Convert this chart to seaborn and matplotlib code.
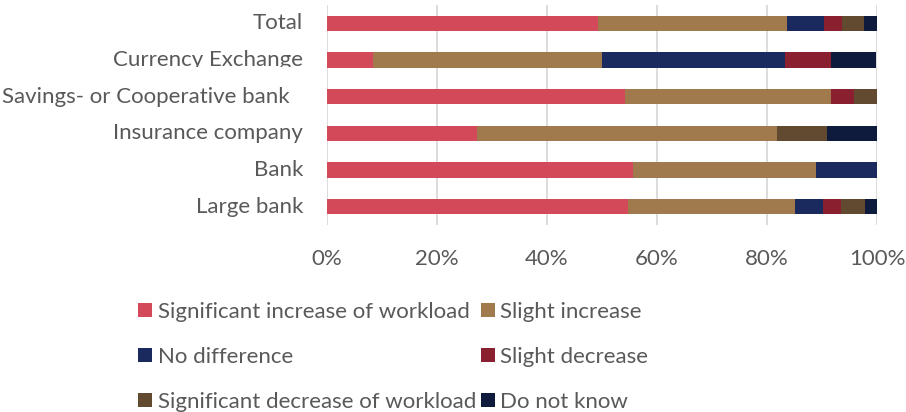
import numpy as np
import pandas as pd
import seaborn as sns
import matplotlib
matplotlib.use("Agg")
import matplotlib.pyplot as plt
from matplotlib.patches import Rectangle
from matplotlib.transforms import Bbox, TransformedBbox, blended_transform_factory, offset_copy

# Survey answers (share of respondents, %) per type of institution
categories = ["Total", "Currency Exchange", "Savings- or Cooperative bank",
              "Insurance company", "Bank", "Large bank"]
series_names = ["Significant increase of workload", "Slight increase",
                "No difference", "Slight decrease",
                "Significant decrease of workload", "Do not know"]
sig_increase = [49.3, 8.3, 54.2, 27.3, 55.6, 54.7]
slight_increase = [34.3, 41.7, 37.5, 54.5, 33.3, 30.3]
no_difference = [6.8, 33.3, 0.0, 0.0, 11.1, 5.2]
slight_decrease = [3.3, 8.3, 4.2, 0.0, 0.0, 3.3]
sig_decrease = [3.9, 0.0, 4.1, 9.1, 0.0, 4.3]
do_not_know = [2.4, 8.3, 0.0, 9.1, 0.0, 2.2]
x_ticks = [0, 20, 40, 60, 80, 100]
x_tick_labels = ["0%", "20%", "40%", "60%", "80%", "100%"]

colors = ["#D4495A", "#A07A4D", "#1B2A5E", "#8A1F2F", "#614A30", "#0F1B3C"]
text_gray = "#595959"
font = "Lato"
fsize = 16

sns.set_theme(style="white")
plt.rcParams["font.family"] = [font, "DejaVu Sans"]

values = pd.DataFrame(
    [sig_increase, slight_increase, no_difference,
     slight_decrease, sig_decrease, do_not_know],
    index=series_names, columns=categories).T
cumulative = values.cumsum(axis=1)

W, H = 906, 412
fig = plt.figure(figsize=(W / 100, H / 100), dpi=100)
ax = fig.add_axes([327 / W, (H - 225) / H, 550 / W, 220 / H])

# Stacked bars: draw the running totals from the outermost segment inwards
for name, col in reversed(list(zip(series_names, colors))):
    df = pd.DataFrame({"cat": categories, "val": cumulative[name].values})
    sns.barplot(data=df, x="val", y="cat", orient="h", color=col,
                saturation=1, width=0.41, ax=ax, linewidth=0)

ax.set_xlim(0, 100)
ax.set_ylim(5.5, -0.5)
ax.set_xticks(x_ticks)
ax.set_xticklabels(x_tick_labels, fontsize=fsize, color=text_gray)
ax.tick_params(axis="x", length=0, pad=17)
ax.set_yticks(range(len(categories)))
ax.set_yticklabels([])
ax.tick_params(axis="y", length=0)
ax.set_xlabel("")
ax.set_ylabel("")
for s in ax.spines.values():
    s.set_visible(False)
ax.grid(axis="x", color="#D9D9D9", linewidth=1.3)
ax.set_axisbelow(True)

# Category labels beside the bars
trans = blended_transform_factory(ax.transAxes, ax.transData)
clip = TransformedBbox(Bbox.from_extents(0, (H - 67) / H, 326 / W, 1), fig.transFigure)
for i, cat in enumerate(categories):
    shift = -37 if cat.startswith("Savings") else -24
    t = ax.text(0, i, cat, transform=offset_copy(trans, fig=fig, x=shift * 0.72, units="points"),
                ha="right", va="center", fontsize=fsize, color=text_gray)
    if cat == "Currency Exchange":
        t.set_clip_on(True)
        t.set_clip_box(clip)

# Legend in two columns below the chart
cols_x = [138, 481]
rows_y = [310, 355, 400]
for i, (name, col) in enumerate(zip(series_names, colors)):
    x0 = cols_x[i % 2]
    yc = rows_y[i // 2]
    fig.patches.append(Rectangle(((x0) / W, (H - yc - 7) / H), 14 / W, 14 / H,
                                 transform=fig.transFigure, facecolor=col,
                                 edgecolor="none"))
    fig.text((x0 + 19.5) / W, (H - yc) / H, name, ha="left", va="center_baseline",
             fontsize=fsize, color=text_gray)

fig.savefig("out.png", dpi=100)
